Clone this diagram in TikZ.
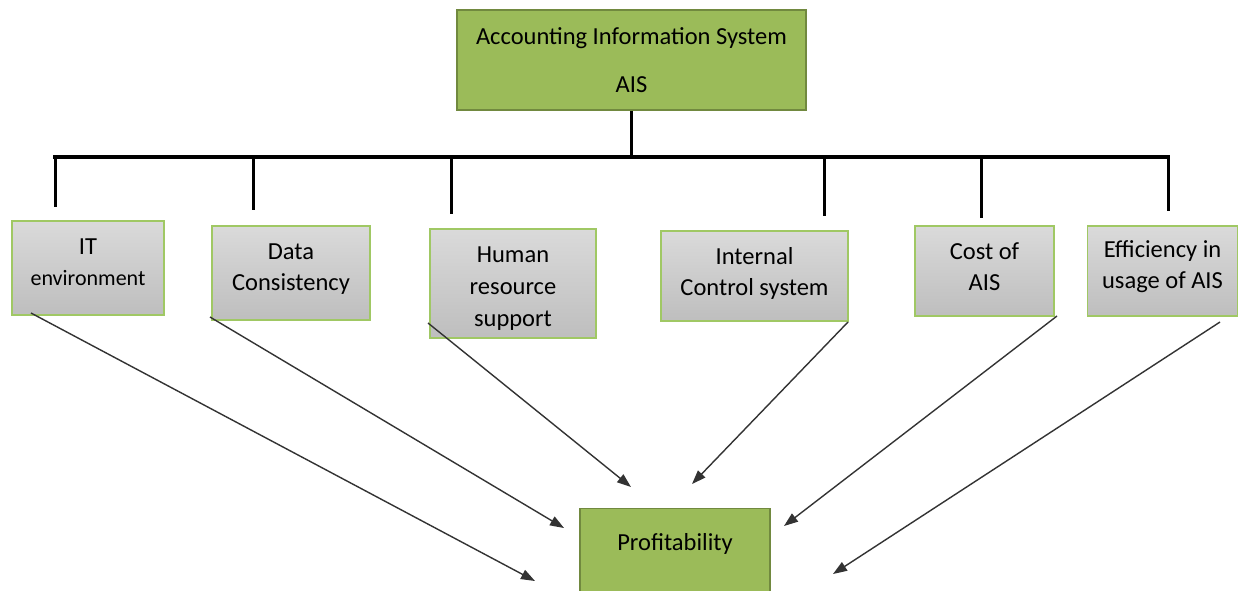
\documentclass[tikz,border=0pt]{standalone}
\usepackage{fontspec}
\setmainfont{Carlito}
\usetikzlibrary{arrows.meta,calc}
\definecolor{aisgreen}{RGB}{155,187,89}
\definecolor{aisgreenborder}{RGB}{113,137,63}
\definecolor{graytop}{RGB}{218,218,218}
\definecolor{graybot}{RGB}{190,190,190}
\definecolor{lightgreen}{RGB}{160,200,100}
\newcommand\aisfont{\fontsize{24.5}{31}\selectfont}
\begin{document}
\begin{tikzpicture}[x=1pt,y=-1pt,
  greenbox/.style={draw=aisgreenborder, fill=aisgreen, line width=1.2pt, inner sep=0pt, align=center, font=\aisfont},
  graybox/.style={draw=lightgreen, line width=1.2pt, top color=graytop, bottom color=graybot, inner sep=0pt},
  plain/.style={inner sep=0pt, font=\aisfont, align=center},
  bus/.style={line width=4pt, line cap=rect},
  drop/.style={line width=3pt},
  arr/.style={draw=black!80, line width=1.4pt, -{Triangle[length=14pt,width=10pt]}}
]
\clip (0,0) rectangle (1239,590);
\fill[white] (0,0) rectangle (1239,590);

% top box
\node[greenbox, minimum width=349pt, minimum height=100pt] (ais) at (631.5,60)
  {Accounting Information System\\[17pt]AIS};

% factor boxes
\node[graybox, minimum width=152pt, minimum height=94pt] (it) at (88,268) {};
\node[graybox, minimum width=158pt, minimum height=94pt] (data) at (291,273) {};
\node[graybox, minimum width=166pt, minimum height=109pt] (human) at (513,283.5) {};
\node[graybox, minimum width=187pt, minimum height=90pt] (ics) at (754.5,276) {};
\node[graybox, minimum width=139pt, minimum height=90pt] (cost) at (984.5,271) {};
\node[graybox, minimum width=150pt, minimum height=90pt] (eff) at (1162.5,271) {};

\node[plain] (ittext) at ($(it)+(0,-6)$) {IT\\{\fontsize{22}{31}\selectfont environment}};
\node[plain] (datatext) at ($(data)+(0,-4)$) {Data\\Consistency};
\node[plain, font=\fontsize{24.5}{32}\selectfont] (humantext) at ($(human)+(0,5)$) {Human\\resource\\support};
\node[plain] (icstext) at ($(ics)+(0,-3)$) {Internal\\Control system};
\node[plain] (costtext) at ($(cost)+(0,-4)$) {Cost of\\AIS};
\node[plain] (efftext) at ($(eff)+(0,-4)$) {Efficiency in\\usage of AIS};

% bottom box
\node[greenbox, minimum width=190pt, minimum height=100pt, anchor=north] (prof) at (675,508) {};
\node[plain] (proftext) at (675,544) {Profitability};

% bus
\coordinate (busL) at (55,157);
\coordinate (busR) at (1168,157);
\draw[bus] (busL) -- (busR);
\draw[drop] (ais.south) -- (ais.south |- busL);
\coordinate (d1) at (55,207);
\coordinate (d2) at (253,210);
\coordinate (d3) at (451,214);
\coordinate (d4) at (824,216);
\coordinate (d5) at (981,218);
\coordinate (d6) at (1168,211);
\foreach \d in {d1,d2,d3,d4,d5,d6}
  \draw[drop] (\d |- busL) -- (\d);

% arrows
\coordinate (s1) at (31,313);   \coordinate (e1) at (535,581);
\coordinate (s2) at (210,317);  \coordinate (e2) at (564,528);
\coordinate (s3) at (428,323);  \coordinate (e3) at (631,487);
\coordinate (s4) at (848,322);  \coordinate (e4) at (692,484);
\coordinate (s5) at (1057,316); \coordinate (e5) at (784,526);
\coordinate (s6) at (1220,322); \coordinate (e6) at (833,574);
\foreach \i in {1,...,6}
  \draw[arr] (s\i) -- (e\i);
\end{tikzpicture}
\end{document}
